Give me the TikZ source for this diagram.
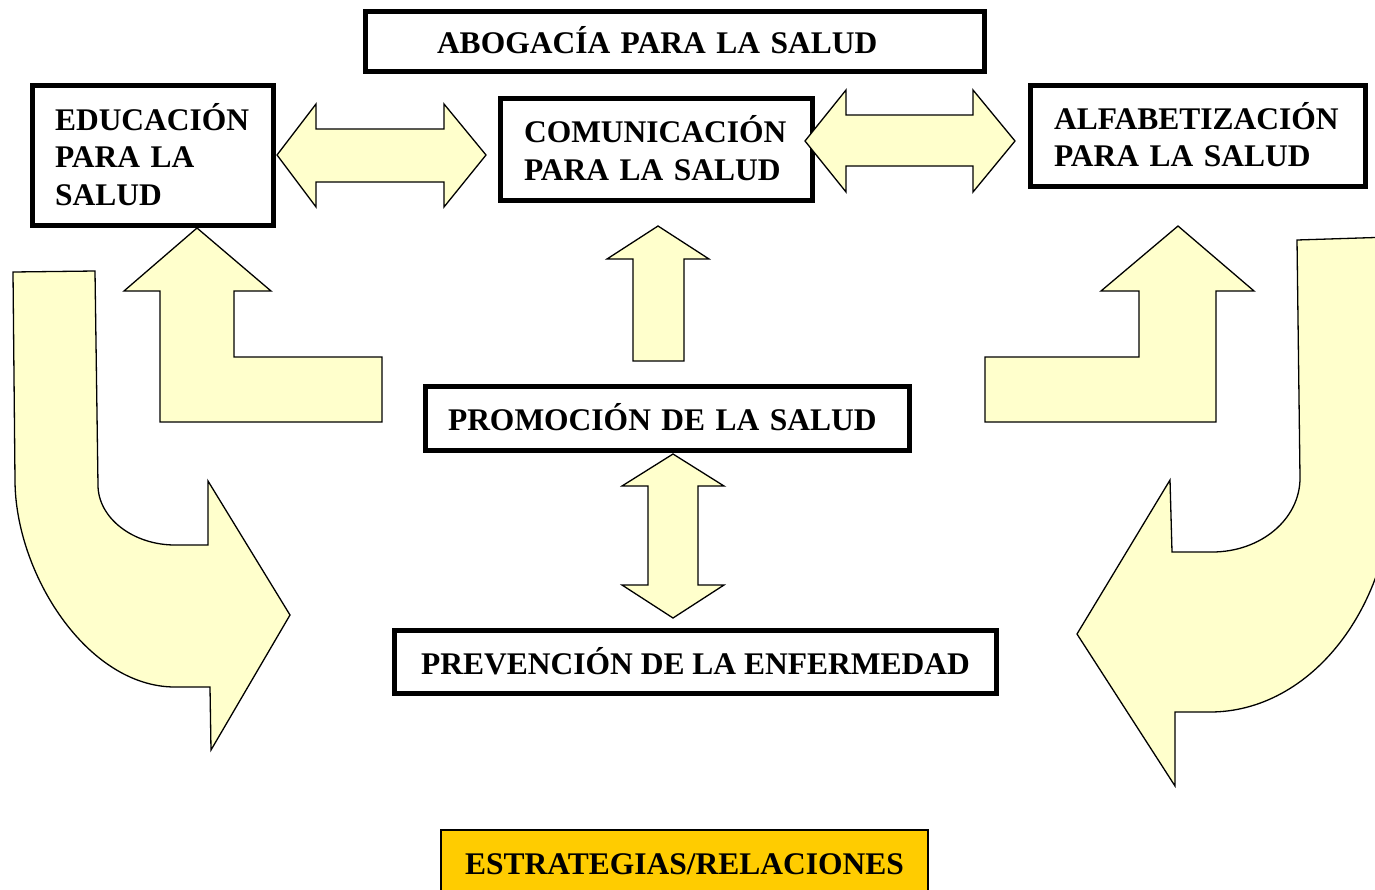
\documentclass[tikz,border=0pt]{standalone}
\usepackage{fontspec}
\setmainfont{Liberation Serif}
\hyphenpenalty=10000
\definecolor{arrowfill}{HTML}{FFFFCC}
\definecolor{goldfill}{HTML}{FFCC00}
\begin{document}
\begin{tikzpicture}[x=1pt,y=-1pt,
  box/.style={draw=black, line width=5pt, fill=white,
    font=\fontsize{31.5}{37.5}\selectfont\bfseries,
    text height=24pt, text depth=0pt, inner sep=0pt},
  lbox/.style={box, align=left},
  blockarrow/.style={draw=black, line width=1.3pt, fill=arrowfill, line join=miter},
]
\path[use as bounding box, clip] (0,0) rectangle (1375,889);

% boxes
\node[lbox, text width=476pt, inner xsep=71.5pt, minimum width=619pt, minimum height=60pt]
  (abog) at (675,41.5) {ABOGACÍA PARA LA SALUD};
\node[lbox, text width=196pt, inner xsep=22.5pt, minimum width=241pt, minimum height=140pt, text depth=75pt]
  (edu) at (153,155.5) {EDUCACIÓN\\PARA LA\\SALUD};
\node[lbox, text width=265pt, inner xsep=23.5pt, minimum width=312pt, minimum height=102pt, text depth=38pt]
  (com) at (656.5,149.5) {COMUNICACIÓN\\PARA LA SALUD};
\node[lbox, text width=288pt, inner xsep=23.5pt, minimum width=335pt, minimum height=101pt, text depth=37.5pt]
  (alf) at (1198,136) {ALFABETIZACIÓN\\PARA LA SALUD};
\node[lbox, text width=439pt, inner xsep=22.5pt, minimum width=484pt, minimum height=64pt]
  (prom) at (667.5,418.5) {PROMOCIÓN DE LA SALUD};
\node[box, minimum width=602pt, minimum height=63pt]
  (prev) at (695.5,662) {PREVENCIÓN DE LA ENFERMEDAD};
\node[box, line width=1.5pt, fill=goldfill, minimum width=487pt, minimum height=65pt]
  (estr) at (684.5,862.5) {ESTRATEGIAS/RELACIONES};

% double arrow EDU <-> COM
\draw[blockarrow] (277,155) -- (316,104) -- (316,129) -- (444,129) -- (444,104) -- (486,155)
  -- (444,207) -- (444,182) -- (316,182) -- (316,207) -- cycle;
% double arrow COM <-> ALF
\draw[blockarrow] (805,141) -- (846,90) -- (846,115) -- (973,115) -- (973,90) -- (1015,141)
  -- (973,192) -- (973,166) -- (846,166) -- (846,192) -- cycle;
% up arrow PROM -> COM
\draw[blockarrow] (658,226) -- (709,259) -- (684,259) -- (684,361) -- (633,361) -- (633,259)
  -- (607,259) -- cycle;
% double arrow PROM <-> PREV
\draw[blockarrow] (673,454) -- (724,486) -- (698,486) -- (698,585) -- (724,585) -- (673,618)
  -- (622,585) -- (648,585) -- (648,486) -- (622,486) -- cycle;
% left bent-up arrow
\draw[blockarrow] (382,357) -- (234,357) -- (234,291) -- (271,291) -- (197,228) -- (124,291)
  -- (160,291) -- (160,422) -- (382,422) -- cycle;
% right bent-up arrow
\draw[blockarrow] (985,357) -- (1139,357) -- (1139,291) -- (1101,291) -- (1178,226) -- (1254,291)
  -- (1216,291) -- (1216,422) -- (985,422) -- cycle;
% left U-turn arrow
\draw[blockarrow] (13,272) -- (95,271) -- (98,485)
  .. controls (98,518) and (133,545) .. (175,545) -- (208,545) -- (208,481) -- (290,615)
  -- (211,750) -- (210,687) -- (175,687)
  .. controls (87,687) and (15,573) .. (15,480) -- cycle;
% right U-turn arrow
\draw[blockarrow] (1297,240) -- (1391,237) -- (1393,478)
  .. controls (1393,607) and (1311,712) .. (1210,712) -- (1175,712) -- (1175,786) -- (1077,634)
  -- (1170,480) -- (1172,552) -- (1212,552)
  .. controls (1261,552) and (1300,519) .. (1300,478) -- cycle;
\end{tikzpicture}
\end{document}
